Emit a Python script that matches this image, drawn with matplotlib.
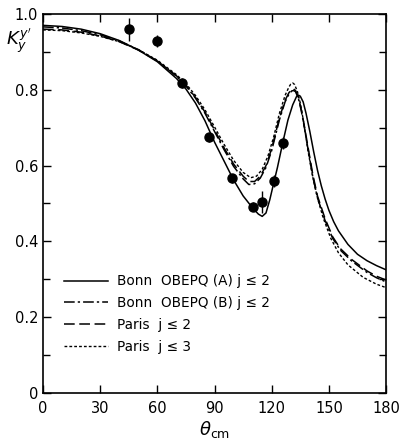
import matplotlib

matplotlib.use("Agg")
import matplotlib.pyplot as plt
from matplotlib.ticker import MultipleLocator

# measured points
theta_data = [45, 60, 73, 87, 99, 110, 115, 121, 126]
k_data = [0.960, 0.929, 0.818, 0.675, 0.567, 0.491, 0.504, 0.559, 0.660]
k_err = [0.03, 0.015, 0.012, 0.012, 0.012, 0.012, 0.03, 0.015, 0.015]

# Bonn OBEPQ (A)
theta_a = [0, 10, 20, 30, 40, 50, 60, 70, 75, 80, 85, 90, 95, 100, 105, 110, 113, 115,
           117, 119, 121, 123, 126, 128.5, 131, 133, 134, 135, 136.5, 138, 140, 142, 144,
           146, 148, 150, 152.5, 155, 160, 165, 170, 175, 180]
k_a = [0.970, 0.967, 0.960, 0.948, 0.930, 0.905, 0.874, 0.830, 0.802, 0.765, 0.718,
       0.662, 0.612, 0.562, 0.520, 0.488, 0.472, 0.466, 0.475, 0.510, 0.553, 0.595,
       0.665, 0.720, 0.760, 0.782, 0.786, 0.783, 0.768, 0.738, 0.690, 0.637, 0.588,
       0.547, 0.512, 0.482, 0.452, 0.428, 0.392, 0.366, 0.349, 0.336, 0.325]

# Bonn OBEPQ (B)
theta_b = [0, 10, 20, 30, 40, 50, 60, 70, 75, 80, 85, 90, 95, 100, 105, 108, 111, 114,
           117, 120, 124, 127, 129, 130.5, 131.5, 132.5, 134, 135.5, 137, 139, 141.5,
           144, 148, 152, 156, 162, 170, 175, 180]
k_b = [0.966, 0.963, 0.956, 0.945, 0.929, 0.906, 0.876, 0.836, 0.810, 0.778, 0.738,
       0.690, 0.642, 0.598, 0.565, 0.550, 0.552, 0.567, 0.595, 0.640, 0.720, 0.768,
       0.788, 0.797, 0.798, 0.795, 0.777, 0.745, 0.705, 0.645, 0.572, 0.515, 0.455,
       0.408, 0.377, 0.348, 0.318, 0.304, 0.293]

# Paris j<=2
theta_c = [0, 10, 20, 30, 40, 50, 60, 70, 75, 80, 85, 90, 95, 100, 105, 108, 111, 114,
           117, 120, 124, 127, 129, 130.5, 131.5, 132.5, 134, 135.5, 137, 139, 141.5,
           144, 148, 152, 156, 162, 170, 175, 180]
k_c = [0.960, 0.958, 0.952, 0.942, 0.927, 0.905, 0.876, 0.837, 0.812, 0.780, 0.741,
       0.694, 0.647, 0.604, 0.572, 0.558, 0.558, 0.572, 0.600, 0.645, 0.725, 0.772,
       0.792, 0.801, 0.802, 0.798, 0.780, 0.748, 0.708, 0.650, 0.578, 0.520, 0.460,
       0.412, 0.381, 0.352, 0.322, 0.308, 0.298]

# Paris j<=3
theta_d = [0, 10, 20, 30, 40, 50, 60, 70, 75, 80, 85, 90, 95, 100, 105, 109, 112, 115,
           118, 121, 124, 127, 129, 130, 131, 132, 133.5, 135, 136.5, 139, 141.5, 144,
           147, 151, 155, 160, 168, 175, 180]
k_d = [0.958, 0.956, 0.950, 0.941, 0.927, 0.906, 0.878, 0.840, 0.816, 0.785, 0.747,
       0.702, 0.656, 0.614, 0.582, 0.568, 0.572, 0.590, 0.625, 0.675, 0.737, 0.785,
       0.807, 0.815, 0.818, 0.814, 0.795, 0.765, 0.722, 0.640, 0.570, 0.515, 0.462,
       0.408, 0.370, 0.338, 0.305, 0.287, 0.278]

labels = ["Bonn  OBEPQ (A) j ≤ 2", "Bonn  OBEPQ (B) j ≤ 2", "Paris  j ≤ 2", "Paris  j ≤ 3"]

plt.rcParams["font.family"] = ["DejaVu Sans"]

fig = plt.figure(figsize=(4.03, 4.48), dpi=100)
ax = fig.add_axes([0.1067, 0.1228, 0.8513, 0.846])

ax.plot(theta_a, k_a, color="black", lw=1.1, label=labels[0])
ax.plot(theta_b, k_b, color="black", lw=1.1, dashes=(7, 2, 1.5, 2), label=labels[1])
ax.plot(theta_c, k_c, color="black", lw=1.1, dashes=(7, 3), label=labels[2])
ax.plot(theta_d, k_d, color="black", lw=1.0, dashes=(2, 1.5), label=labels[3])
ax.errorbar(theta_data, k_data, yerr=k_err, fmt="o", color="black", ms=6.5,
            elinewidth=1, capsize=0)

ax.set_xlim(0, 180)
ax.set_ylim(0, 1.0)
ax.xaxis.set_major_locator(MultipleLocator(30))
ax.yaxis.set_minor_locator(MultipleLocator(0.1))
ax.set_yticks([0, 0.2, 0.4, 0.6, 0.8, 1.0])
ax.set_yticklabels(["0", "0.2", "0.4", "0.6", "0.8", "1.0"])
ax.tick_params(which="both", direction="in", top=True, right=True, labelsize=10.5,
               width=1)
ax.tick_params(which="major", length=6)
ax.tick_params(which="minor", length=5)
ax.tick_params(axis="x", pad=6)
for s in ax.spines.values():
    s.set_linewidth(1.2)

ax.text(-0.072, 0.89, "$K_y^{y'}$", transform=ax.transAxes, fontsize=13,
        ha="center", va="bottom")
ax.set_xlabel(r"$\theta_{\rm cm}$", fontsize=13, labelpad=2)

ax.legend(loc="lower left", bbox_to_anchor=(0.04, 0.085), frameon=False, fontsize=9.8,
          handlelength=3.3, handletextpad=0.6, labelspacing=0.58, borderpad=0)

fig.savefig("out.png", dpi=100)
